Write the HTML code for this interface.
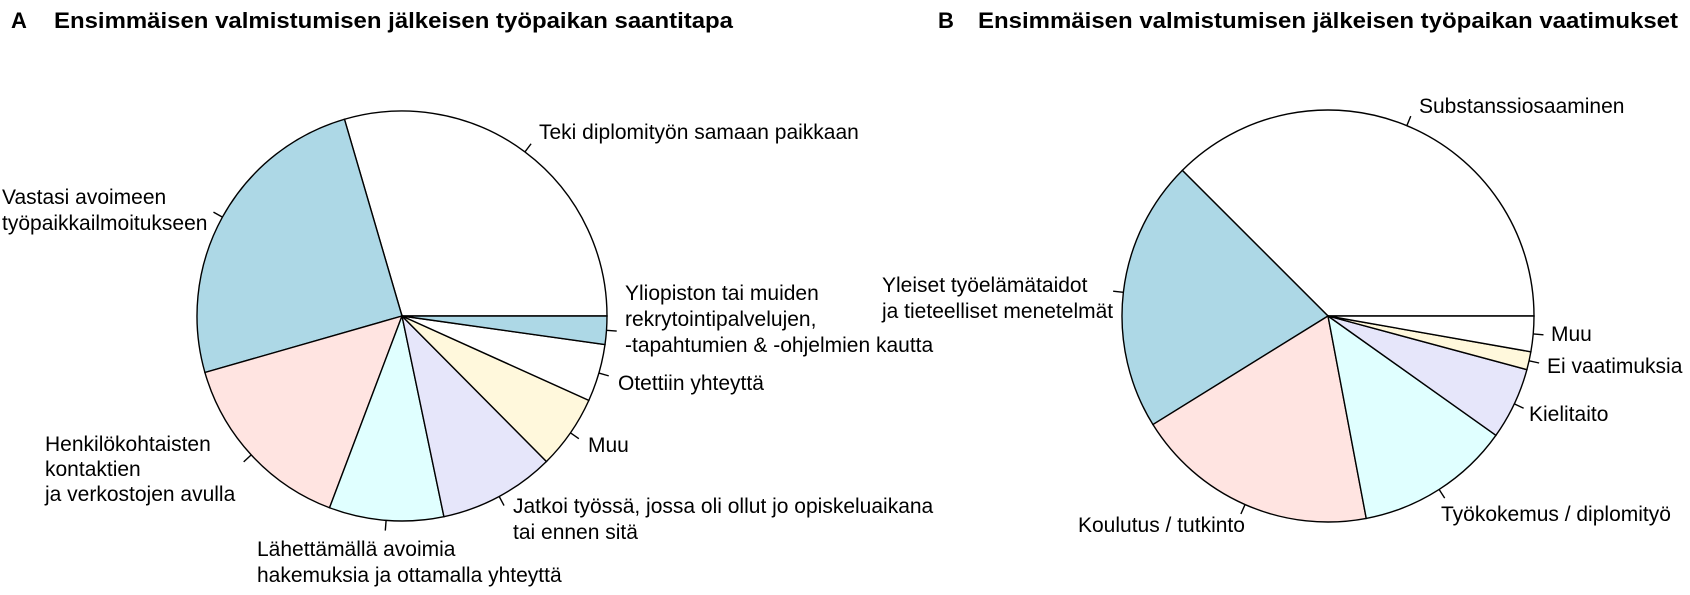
<!DOCTYPE html>
<html><head><meta charset="utf-8"><style>
html,body{margin:0;padding:0;background:#fff;}
svg{display:block;}
text{font-family:"Liberation Sans",Arial,sans-serif;fill:#000;}
.l{font-size:21px;}
.t{font-size:22px;font-weight:bold;}
</style></head><body>
<svg id="s" width="1690" height="595" viewBox="0 0 1690 595" xmlns="http://www.w3.org/2000/svg">
<g id="pies"></g>
<text class="t" x="11" y="28">A</text>
<text class="t" x="54" y="28" textLength="679" lengthAdjust="spacingAndGlyphs">Ensimmäisen valmistumisen jälkeisen työpaikan saantitapa</text>
<text class="t" x="938" y="28">B</text>
<text class="t" x="978" y="28" textLength="700" lengthAdjust="spacingAndGlyphs">Ensimmäisen valmistumisen jälkeisen työpaikan vaatimukset</text>

<text class="l" x="539" y="139">Teki diplomityön samaan paikkaan</text>
<text class="l" x="2" y="204">Vastasi avoimeen</text>
<text class="l" x="2" y="230">työpaikkailmoitukseen</text>
<text class="l" x="625" y="300">Yliopiston tai muiden</text>
<text class="l" x="625" y="326">rekrytointipalvelujen,</text>
<text class="l" x="625" y="352">-tapahtumien &amp; -ohjelmien kautta</text>
<text class="l" x="618" y="390">Otettiin yhteyttä</text>
<text class="l" x="588" y="452">Muu</text>
<text class="l" x="513" y="513">Jatkoi työssä, jossa oli ollut jo opiskeluaikana</text>
<text class="l" x="513" y="539">tai ennen sitä</text>
<text class="l" x="257" y="556">Lähettämällä avoimia</text>
<text class="l" x="257" y="582">hakemuksia ja ottamalla yhteyttä</text>
<text class="l" x="45" y="451">Henkilökohtaisten</text>
<text class="l" x="45" y="476">kontaktien</text>
<text class="l" x="45" y="501">ja verkostojen avulla</text>

<text class="l" x="1419" y="113">Substanssiosaaminen</text>
<text class="l" x="882" y="292">Yleiset työelämätaidot</text>
<text class="l" x="882" y="318">ja tieteelliset menetelmät</text>
<text class="l" x="1551" y="341">Muu</text>
<text class="l" x="1547" y="373">Ei vaatimuksia</text>
<text class="l" x="1529" y="421">Kielitaito</text>
<text class="l" x="1441" y="521">Työkokemus / diplomityö</text>
<text class="l" x="1078" y="532">Koulutus / tutkinto</text>
</svg>
<script>
(function(){
var g=document.getElementById('pies');var ns='http://www.w3.org/2000/svg';
function pie(cx,cy,r,b,cols){
 for(var i=0;i<b.length-1;i++){
  var a0=b[i]*Math.PI/180,a1=b[i+1]*Math.PI/180;
  var x0=cx+r*Math.cos(a0),y0=cy-r*Math.sin(a0),x1=cx+r*Math.cos(a1),y1=cy-r*Math.sin(a1);
  var big=(b[i+1]-b[i])>180?1:0;
  var p=document.createElementNS(ns,'path');
  p.setAttribute('d','M'+cx+','+cy+'L'+x0+','+y0+'A'+r+','+r+' 0 '+big+' 0 '+x1+','+y1+'Z');
  p.setAttribute('fill',cols[i]);p.setAttribute('stroke','#000');p.setAttribute('stroke-width','1.4');
  g.appendChild(p);
  var m=(b[i]+b[i+1])/2*Math.PI/180;
  var t=document.createElementNS(ns,'line');
  t.setAttribute('x1',cx+r*Math.cos(m));t.setAttribute('y1',cy-r*Math.sin(m));
  t.setAttribute('x2',cx+1.05*r*Math.cos(m));t.setAttribute('y2',cy-1.05*r*Math.sin(m));
  t.setAttribute('stroke','#000');t.setAttribute('stroke-width','1.4');
  g.appendChild(t);
 }
}
pie(402,316,205,[0,106.3,196,249.3,281.8,314.8,335.7,352,360],
 ['#fff','#add8e6','#ffe4e1','#e0ffff','#e6e6fa','#fff8dc','#fff','#add8e6']);
pie(1328,316,206,[0,135,211.8,280.7,324.6,344.9,350,360],
 ['#fff','#add8e6','#ffe4e1','#e0ffff','#e6e6fa','#fff8dc','#fff']);
})();
</script>
</body></html>
